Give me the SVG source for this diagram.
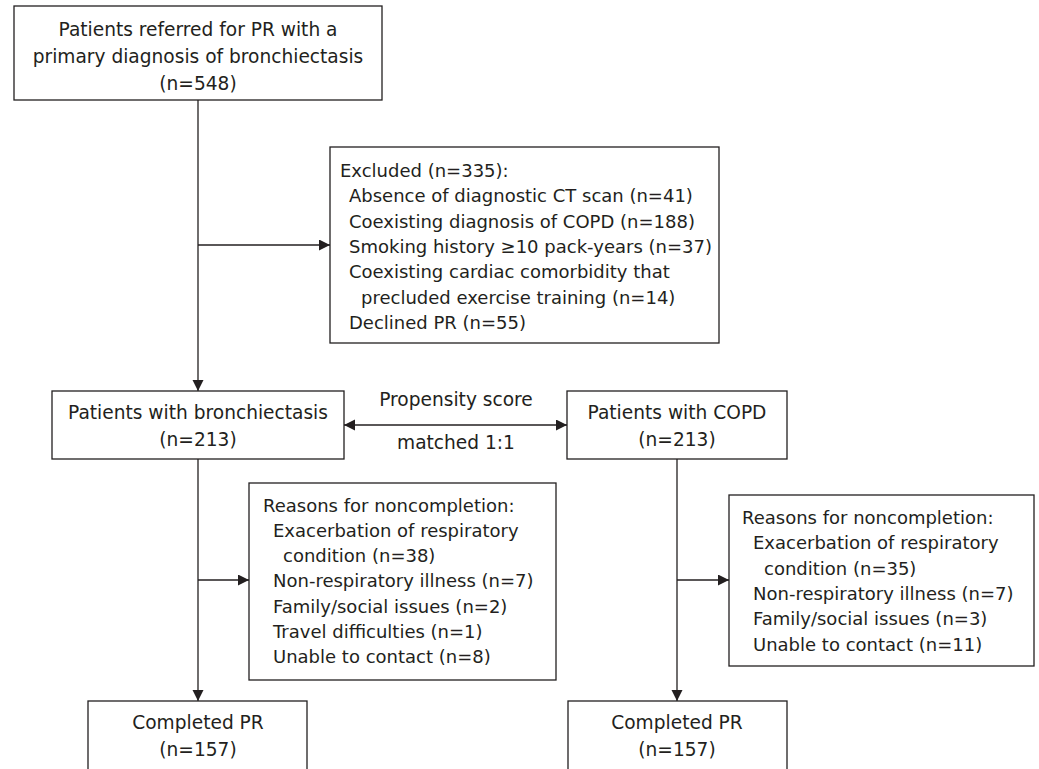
<svg xmlns="http://www.w3.org/2000/svg" width="1039" height="769" viewBox="0 0 1039 769">
<style>
.box{fill:#fff;stroke:#231f20;stroke-width:1.3}
.t{font-family:"DejaVu Sans",sans-serif;font-size:18.6px;fill:#231f20;text-anchor:middle}
.l{font-family:"DejaVu Sans",sans-serif;font-size:18px;fill:#231f20}
.c{fill:none;stroke:#231f20;stroke-width:1.3}
</style>
<defs>
<marker id="ah" markerUnits="userSpaceOnUse" markerWidth="12" markerHeight="12" refX="11" refY="5.5" orient="auto-start-reverse">
<path d="M0,0 L11,5.5 L0,11 z" fill="#231f20"/>
</marker>
</defs>
<rect width="1039" height="769" fill="#fff"/>
<g id="connectors">
<path class="c" d="M198,100 V391" marker-end="url(#ah)"/>
<path class="c" d="M198,245 H330" marker-end="url(#ah)"/>
<path class="c" d="M344,425 H567" marker-start="url(#ah)" marker-end="url(#ah)"/>
<path class="c" d="M198,459 V701" marker-end="url(#ah)"/>
<path class="c" d="M198,580 H249" marker-end="url(#ah)"/>
<path class="c" d="M677,459 V701" marker-end="url(#ah)"/>
<path class="c" d="M677,580 H729" marker-end="url(#ah)"/>
</g>
<g id="referred">
<rect class="box" x="14" y="6" width="368" height="94"/>
<text class="t" x="198" y="36">Patients referred for PR with a</text>
<text class="t" x="198" y="63">primary diagnosis of bronchiectasis</text>
<text class="t" x="198" y="90">(n=548)</text>
</g>
<g id="excluded">
<rect class="box" x="330" y="147" width="389" height="196"/>
<text class="l" x="340" y="177">Excluded (n=335):</text>
<text class="l" x="349" y="202.3">Absence of diagnostic CT scan (n=41)</text>
<text class="l" x="349" y="227.6">Coexisting diagnosis of COPD (n=188)</text>
<text class="l" x="349" y="252.9">Smoking history ≥10 pack-years (n=37)</text>
<text class="l" x="349" y="278.2">Coexisting cardiac comorbidity that</text>
<text class="l" x="361" y="303.5">precluded exercise training (n=14)</text>
<text class="l" x="349" y="328.8">Declined PR (n=55)</text>
</g>
<g id="propensity">
<text class="t" x="456" y="406">Propensity score</text>
<text class="t" x="456" y="449">matched 1:1</text>
</g>
<g id="bronchiectasis">
<rect class="box" x="52" y="391" width="292" height="68"/>
<text class="t" x="198" y="419">Patients with bronchiectasis</text>
<text class="t" x="198" y="446">(n=213)</text>
</g>
<g id="copd">
<rect class="box" x="567" y="391" width="220" height="68"/>
<text class="t" x="677" y="419">Patients with COPD</text>
<text class="t" x="677" y="446">(n=213)</text>
</g>
<g id="reasons-bronchiectasis">
<rect class="box" x="249" y="483" width="307" height="197"/>
<text class="l" x="263" y="511.5">Reasons for noncompletion:</text>
<text class="l" x="273" y="536.8">Exacerbation of respiratory</text>
<text class="l" x="283" y="562.1">condition (n=38)</text>
<text class="l" x="273" y="587.4">Non-respiratory illness (n=7)</text>
<text class="l" x="273" y="612.7">Family/social issues (n=2)</text>
<text class="l" x="273" y="638">Travel difficulties (n=1)</text>
<text class="l" x="273" y="663.3">Unable to contact (n=8)</text>
</g>
<g id="reasons-copd">
<rect class="box" x="729" y="495" width="305" height="171"/>
<text class="l" x="742" y="524">Reasons for noncompletion:</text>
<text class="l" x="753" y="549.3">Exacerbation of respiratory</text>
<text class="l" x="764" y="574.6">condition (n=35)</text>
<text class="l" x="753" y="599.9">Non-respiratory illness (n=7)</text>
<text class="l" x="753" y="625.2">Family/social issues (n=3)</text>
<text class="l" x="753" y="650.5">Unable to contact (n=11)</text>
</g>
<g id="completed-bronchiectasis">
<rect class="box" x="88" y="701" width="219" height="90"/>
<text class="t" x="198" y="729">Completed PR</text>
<text class="t" x="198" y="756">(n=157)</text>
</g>
<g id="completed-copd">
<rect class="box" x="568" y="701" width="219" height="90"/>
<text class="t" x="677" y="729">Completed PR</text>
<text class="t" x="677" y="756">(n=157)</text>
</g>
</svg>
